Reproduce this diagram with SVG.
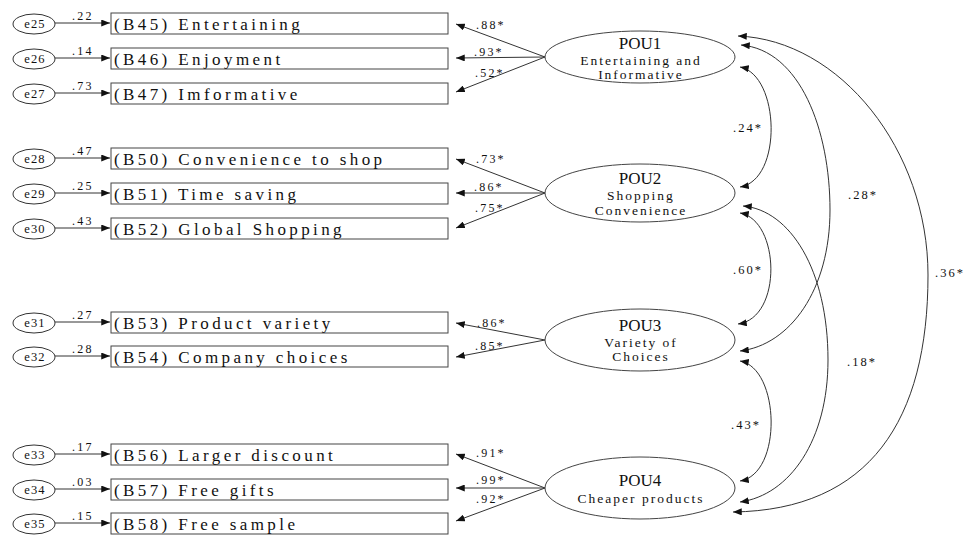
<svg xmlns="http://www.w3.org/2000/svg" width="973" height="536" viewBox="0 0 973 536">
  <style>
    .bg { fill: #ffffff; }
    .err { fill: #ffffff; stroke: #333; stroke-width: 1; }
    .ind { fill: #ffffff; stroke: #444; stroke-width: 1; }
    .lat { fill: #ffffff; stroke: #444; stroke-width: 1; }
    .etx { font-family: "Liberation Serif", "Times New Roman", serif; font-size: 12.5px; fill: #111; text-anchor: middle; letter-spacing: 1.2px; }
    .itx { font-family: "Liberation Serif", "Times New Roman", serif; font-size: 17px; fill: #111; letter-spacing: 3.4px; }
    .ltl { font-family: "Liberation Serif", "Times New Roman", serif; font-size: 17px; fill: #111; text-anchor: middle; }
    .lsub { font-family: "Liberation Serif", "Times New Roman", serif; font-size: 13.5px; fill: #111; text-anchor: middle; letter-spacing: 2px; }
    .num { font-family: "Liberation Serif", "Times New Roman", serif; font-size: 12px; fill: #111; letter-spacing: 2.2px; }
    .cnum { font-family: "Liberation Serif", "Times New Roman", serif; font-size: 12.5px; fill: #111; text-anchor: middle; letter-spacing: 2px; }
    .ln { fill: none; stroke: #333; stroke-width: 1; }
    .arr { marker-end: url(#ah); }
    .dbl { marker-start: url(#ah); marker-end: url(#ah); }
  </style>
  <defs>
    <marker id="ah" viewBox="0 0 10 8" refX="10" refY="4" markerWidth="9" markerHeight="7" markerUnits="userSpaceOnUse" orient="auto-start-reverse">
      <path d="M0,0 L10,4 L0,8 Z" fill="#111"/>
    </marker>
  </defs>
  <rect class="bg" x="0" y="0" width="973" height="536"/>

  <!-- connectors -->
  <g id="connectors">
    <!-- error terms to indicators -->
    <line class="ln arr" x1="55" y1="23" x2="110" y2="23"/>
    <line class="ln arr" x1="55" y1="58" x2="110" y2="58"/>
    <line class="ln arr" x1="55" y1="93" x2="110" y2="93"/>
    <line class="ln arr" x1="55" y1="158" x2="110" y2="158"/>
    <line class="ln arr" x1="55" y1="193" x2="110" y2="193"/>
    <line class="ln arr" x1="55" y1="228" x2="110" y2="228"/>
    <line class="ln arr" x1="55" y1="322" x2="110" y2="322"/>
    <line class="ln arr" x1="55" y1="356" x2="110" y2="356"/>
    <line class="ln arr" x1="55" y1="454" x2="110" y2="454"/>
    <line class="ln arr" x1="55" y1="489" x2="110" y2="489"/>
    <line class="ln arr" x1="55" y1="523" x2="110" y2="523"/>
    <text class="num" x="72" y="20">.22</text>
    <text class="num" x="72" y="55">.14</text>
    <text class="num" x="72" y="90">.73</text>
    <text class="num" x="72" y="155">.47</text>
    <text class="num" x="72" y="190">.25</text>
    <text class="num" x="72" y="225">.43</text>
    <text class="num" x="72" y="319">.27</text>
    <text class="num" x="72" y="353">.28</text>
    <text class="num" x="72" y="451">.17</text>
    <text class="num" x="72" y="486">.03</text>
    <text class="num" x="72" y="520">.15</text>

    <!-- factor loadings -->
    <line class="ln arr" x1="545" y1="57" x2="456" y2="24"/>
    <line class="ln arr" x1="545" y1="57" x2="456" y2="58"/>
    <line class="ln arr" x1="545" y1="57" x2="456" y2="92"/>
    <text class="num" x="476" y="29">.88*</text>
    <text class="num" x="474" y="56">.93*</text>
    <text class="num" x="475" y="77">.52*</text>

    <line class="ln arr" x1="545" y1="193" x2="456" y2="159"/>
    <line class="ln arr" x1="545" y1="193" x2="456" y2="193"/>
    <line class="ln arr" x1="545" y1="193" x2="456" y2="228"/>
    <text class="num" x="476" y="163">.73*</text>
    <text class="num" x="474" y="191">.86*</text>
    <text class="num" x="475" y="212">.75*</text>

    <line class="ln arr" x1="545" y1="340" x2="456" y2="323"/>
    <line class="ln arr" x1="545" y1="340" x2="456" y2="357"/>
    <text class="num" x="477" y="327">.86*</text>
    <text class="num" x="475" y="350">.85*</text>

    <line class="ln arr" x1="545" y1="488" x2="456" y2="454"/>
    <line class="ln arr" x1="545" y1="488" x2="456" y2="488"/>
    <line class="ln arr" x1="545" y1="488" x2="456" y2="521"/>
    <text class="num" x="476" y="457">.91*</text>
    <text class="num" x="476" y="484">.99*</text>
    <text class="num" x="476" y="503">.92*</text>

    <!-- factor covariances -->
    <path class="ln dbl" d="M740,67 C780,75 783,180 740,187"/>
    <path class="ln dbl" d="M740,213 C780,220 783,318 738,324"/>
    <path class="ln dbl" d="M740,361 C780,368 783,474 740,481"/>
    <path class="ln dbl" d="M741,45 C800,50 830,130 830,210 C830,290 790,345 740,351"/>
    <path class="ln dbl" d="M743,206 C790,210 828,270 828,360 C828,440 790,495 740,502"/>
    <path class="ln dbl" d="M738,36 C840,40 928,150 928,275 C928,420 870,510 733,512"/>
    <text class="cnum" x="748" y="132">.24*</text>
    <text class="cnum" x="748" y="274">.60*</text>
    <text class="cnum" x="746" y="429">.43*</text>
    <text class="cnum" x="863" y="199">.28*</text>
    <text class="cnum" x="862" y="366">.18*</text>
    <text class="cnum" x="950" y="277">.36*</text>
  </g>

  <!-- error terms -->
  <g id="e25"><ellipse class="err" cx="34" cy="24" rx="21" ry="10"/><text class="etx" x="35" y="28">e25</text></g>
  <g id="e26"><ellipse class="err" cx="34" cy="59" rx="21" ry="10"/><text class="etx" x="35" y="63">e26</text></g>
  <g id="e27"><ellipse class="err" cx="34" cy="94" rx="21" ry="10"/><text class="etx" x="35" y="98">e27</text></g>
  <g id="e28"><ellipse class="err" cx="34" cy="159" rx="21" ry="10"/><text class="etx" x="35" y="163">e28</text></g>
  <g id="e29"><ellipse class="err" cx="34" cy="194" rx="21" ry="10"/><text class="etx" x="35" y="198">e29</text></g>
  <g id="e30"><ellipse class="err" cx="34" cy="229" rx="21" ry="10"/><text class="etx" x="35" y="233">e30</text></g>
  <g id="e31"><ellipse class="err" cx="34" cy="323" rx="21" ry="10"/><text class="etx" x="35" y="327">e31</text></g>
  <g id="e32"><ellipse class="err" cx="34" cy="357" rx="21" ry="10"/><text class="etx" x="35" y="361">e32</text></g>
  <g id="e33"><ellipse class="err" cx="34" cy="455" rx="21" ry="10"/><text class="etx" x="35" y="459">e33</text></g>
  <g id="e34"><ellipse class="err" cx="34" cy="490" rx="21" ry="10"/><text class="etx" x="35" y="494">e34</text></g>
  <g id="e35"><ellipse class="err" cx="34" cy="524" rx="21" ry="10"/><text class="etx" x="35" y="528">e35</text></g>

  <!-- observed indicators -->
  <g id="B45"><rect class="ind" x="111" y="13" width="337" height="21"/><text class="itx" x="114" y="30">(B45) Entertaining</text></g>
  <g id="B46"><rect class="ind" x="111" y="48" width="337" height="21"/><text class="itx" x="114" y="65">(B46) Enjoyment</text></g>
  <g id="B47"><rect class="ind" x="111" y="83" width="337" height="21"/><text class="itx" x="114" y="100">(B47) Imformative</text></g>
  <g id="B50"><rect class="ind" x="111" y="148" width="337" height="21"/><text class="itx" x="114" y="165">(B50) Convenience to shop</text></g>
  <g id="B51"><rect class="ind" x="111" y="183" width="337" height="21"/><text class="itx" x="114" y="200">(B51) Time saving</text></g>
  <g id="B52"><rect class="ind" x="111" y="218" width="337" height="21"/><text class="itx" x="114" y="235">(B52) Global Shopping</text></g>
  <g id="B53"><rect class="ind" x="111" y="312" width="337" height="21"/><text class="itx" x="114" y="329">(B53) Product variety</text></g>
  <g id="B54"><rect class="ind" x="111" y="346" width="337" height="21"/><text class="itx" x="114" y="363">(B54) Company choices</text></g>
  <g id="B56"><rect class="ind" x="111" y="444" width="337" height="21"/><text class="itx" x="114" y="461">(B56) Larger discount</text></g>
  <g id="B57"><rect class="ind" x="111" y="479" width="337" height="21"/><text class="itx" x="114" y="496">(B57) Free gifts</text></g>
  <g id="B58"><rect class="ind" x="111" y="513" width="337" height="21"/><text class="itx" x="114" y="530">(B58) Free sample</text></g>

  <!-- latent factors -->
  <g id="POU1">
    <ellipse class="lat" cx="640" cy="57" rx="95" ry="26"/>
    <text class="ltl" x="640" y="49">POU1</text>
    <text class="lsub" x="641" y="64.5">Entertaining and</text>
    <text class="lsub" x="641" y="79">Informative</text>
  </g>
  <g id="POU2">
    <ellipse class="lat" cx="640" cy="193" rx="95" ry="29"/>
    <text class="ltl" x="640" y="184">POU2</text>
    <text class="lsub" x="641" y="200">Shopping</text>
    <text class="lsub" x="641" y="215">Convenience</text>
  </g>
  <g id="POU3">
    <ellipse class="lat" cx="640" cy="340" rx="95" ry="31"/>
    <text class="ltl" x="640" y="331">POU3</text>
    <text class="lsub" x="641" y="346.5">Variety of</text>
    <text class="lsub" x="641" y="361">Choices</text>
  </g>
  <g id="POU4">
    <ellipse class="lat" cx="640" cy="488" rx="95" ry="31"/>
    <text class="ltl" x="640" y="486">POU4</text>
    <text class="lsub" x="641" y="503">Cheaper products</text>
  </g>
</svg>
